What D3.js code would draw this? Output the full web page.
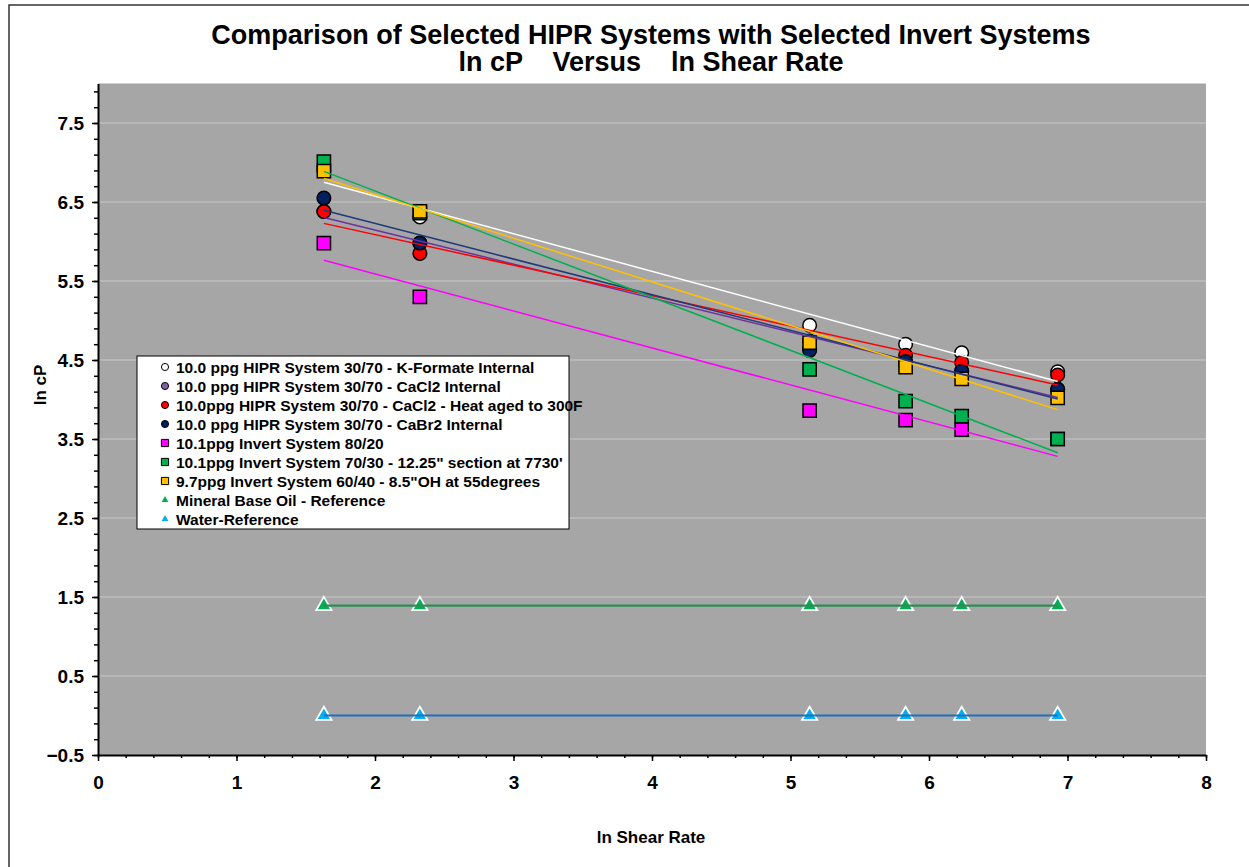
<!DOCTYPE html>
<html>
<head>
<meta charset="utf-8">
<script src="https://cdn.jsdelivr.net/npm/d3@7"></script>
<style>
  body { margin: 0; background: #fff; }
  svg { display: block; font-family: "Liberation Sans", Arial, sans-serif; }
  .axis path, .axis line { stroke: #000; }
  .axis text { font-weight: bold; font-size: 19px; fill: #000; }
</style>
</head>
<body>
<div id="chart"></div>
<script>
// ln shear rate (x) shared by every series
const lnShear = [1.631, 2.324, 5.138, 5.831, 6.236, 6.929];

// ln cP values
const kFormate    = [6.90, 6.31, 4.94, 4.70, 4.59, 4.35];
const cacl2Int    = [6.38, 5.98, 4.65, 4.45, 4.36, 4.13];
const cacl2Heat   = [6.38, 5.85, 4.74, 4.56, 4.47, 4.31];
const cabr2Int    = [6.55, 5.98, 4.62, 4.48, 4.36, 4.13];
const invert8020  = [5.98, 5.30, 3.86, 3.74, 3.62, 3.50];
const invert7030  = [7.01, 6.36, 4.38, 3.98, 3.79, 3.50];
const invert6040  = [6.89, 6.38, 4.72, 4.41, 4.26, 4.02];
const mineralOil  = [1.39, 1.39, 1.39, 1.39, 1.39, 1.39];
const waterRef    = [0.00, 0.00, 0.00, 0.00, 0.00, 0.00];

const seriesNames = [
  "10.0 ppg HIPR System 30/70 - K-Formate Internal",
  "10.0 ppg HIPR System 30/70 - CaCl2 Internal",
  "10.0ppg HIPR System 30/70 - CaCl2 - Heat aged to 300F",
  "10.0 ppg HIPR System 30/70 - CaBr2 Internal",
  "10.1ppg Invert System 80/20",
  "10.1ppg Invert System 70/30 - 12.25\" section at 7730'",
  "9.7ppg Invert System 60/40 - 8.5\"OH at 55degrees",
  "Mineral Base Oil - Reference",
  "Water-Reference"
];
const xTicks = [0, 1, 2, 3, 4, 5, 6, 7, 8];
const yTicks = [-0.5, 0.5, 1.5, 2.5, 3.5, 4.5, 5.5, 6.5, 7.5];

const styles = [
  {shape: d3.symbolCircle,   fill: "#ffffff", stroke: "#000", line: "#ffffff"},
  {shape: d3.symbolCircle,   fill: "#8064a2", stroke: "#000", line: "#7030a0"},
  {shape: d3.symbolCircle,   fill: "#ff0000", stroke: "#000", line: "#ff0000"},
  {shape: d3.symbolCircle,   fill: "#002060", stroke: "#000", line: "#1f3a7a"},
  {shape: d3.symbolSquare,   fill: "#ff00ff", stroke: "#000", line: "#ff00ff"},
  {shape: d3.symbolSquare,   fill: "#00b050", stroke: "#000", line: "#00b050"},
  {shape: d3.symbolSquare,   fill: "#ffc000", stroke: "#000", line: "#ffc000"},
  {shape: d3.symbolTriangle, fill: "#00b050", stroke: "#fff", line: "#2e8b57"},
  {shape: d3.symbolTriangle, fill: "#00b0f0", stroke: "#fff", line: "#1f6fbf"}
];
const values = [kFormate, cacl2Int, cacl2Heat, cabr2Int, invert8020, invert7030, invert6040, mineralOil, waterRef];

const series = seriesNames.map(function(name, i) {
  return {name: name, style: styles[i],
          points: lnShear.map(function(x, j) { return {x: x, y: values[i][j]}; })};
});

const W = 1249, H = 867;
const svg = d3.select("#chart").append("svg").attr("width", W).attr("height", H);

// outer chart frame
svg.append("rect").attr("x", 9).attr("y", 5).attr("width", 1300).attr("height", 900)
  .attr("fill", "#fff").attr("stroke", "#333").attr("stroke-width", 1.5);

const x = d3.scaleLinear().domain([0, 8]).range([98, 1206]);
const y = d3.scaleLinear().domain([-0.5, 8]).range([755, 83.5]);

// plot area
svg.append("rect").attr("x", x(0)).attr("y", y(8))
  .attr("width", x(8) - x(0)).attr("height", y(-0.5) - y(8))
  .attr("fill", "#a6a6a6");

// horizontal gridlines
svg.append("g").selectAll("line").data(yTicks.slice(1)).enter().append("line")
  .attr("x1", x(0)).attr("x2", x(8))
  .attr("y1", function(d) { return y(d); }).attr("y2", function(d) { return y(d); })
  .attr("stroke", "#c8c8c8").attr("stroke-width", 1);

// minor ticks
const xMinor = d3.range(0, 41).map(function(i) { return i * 0.2; });
const yMinor = d3.range(0, 43).map(function(i) { return -0.5 + i * 0.2; });
svg.append("g").attr("class", "axis").attr("transform", "translate(0," + y(-0.5) + ")")
  .call(d3.axisBottom(x).tickValues(xMinor).tickSize(3).tickFormat(""))
  .call(function(g) { g.select(".domain").remove(); });
svg.append("g").attr("class", "axis").attr("transform", "translate(" + x(0) + ",0)")
  .call(d3.axisLeft(y).tickValues(yMinor).tickSize(4).tickFormat(""))
  .call(function(g) { g.select(".domain").remove(); });

// major axes
const xAxis = svg.append("g").attr("class", "axis").attr("transform", "translate(0," + y(-0.5) + ")")
  .call(d3.axisBottom(x).tickValues(xTicks).tickSize(6).tickSizeOuter(0).tickPadding(15).tickFormat(d3.format("d")));
const yAxis = svg.append("g").attr("class", "axis").attr("transform", "translate(" + x(0) + ",0)")
  .call(d3.axisLeft(y).tickValues(yTicks).tickSize(6).tickSizeOuter(0).tickPadding(8).tickFormat(d3.format(".1f")));
xAxis.select(".domain").attr("stroke-width", 2);
yAxis.select(".domain").attr("stroke-width", 2);
svg.selectAll(".axis .tick line").attr("stroke-width", 1.5);

// markers
const markerSize = {circle: 145, square: 175, triangle: 100};
series.forEach(function(s) {
  const sz = s.style.shape === d3.symbolCircle ? markerSize.circle
           : s.style.shape === d3.symbolSquare ? markerSize.square : markerSize.triangle;
  svg.append("g").selectAll("path").data(s.points).enter().append("path")
    .attr("transform", function(d) { return "translate(" + x(d.x) + "," + y(d.y) + ")"; })
    .attr("d", d3.symbol().type(s.style.shape).size(sz))
    .attr("fill", s.style.fill).attr("stroke", s.style.stroke)
    .attr("stroke-width", s.style.stroke === "#fff" ? 1.8 : 1.5);
});

// linear trendlines (least squares through each series)
function fit(points) {
  const mx = d3.mean(points, function(d) { return d.x; });
  const my = d3.mean(points, function(d) { return d.y; });
  const sxy = d3.sum(points, function(d) { return (d.x - mx) * (d.y - my); });
  const sxx = d3.sum(points, function(d) { return (d.x - mx) * (d.x - mx); });
  const b = sxx === 0 ? 0 : sxy / sxx;
  return function(v) { return my + b * (v - mx); };
}
const xs = d3.extent(lnShear);
series.forEach(function(s, i) {
  const f = fit(s.points);
  svg.append("line")
    .attr("x1", x(xs[0])).attr("y1", y(f(xs[0])))
    .attr("x2", x(xs[1])).attr("y2", y(f(xs[1])))
    .attr("stroke", s.style.line).attr("stroke-width", i >= 7 ? 2.2 : 1.5);
});

// legend
const legend = svg.append("g");
legend.append("rect").attr("x", 137).attr("y", 356).attr("width", 432).attr("height", 173)
  .attr("fill", "#fff").attr("stroke", "#000").attr("stroke-width", 1);
series.forEach(function(s, i) {
  const ly = 367 + i * 19;
  const sz = s.style.shape === d3.symbolCircle ? 40 : s.style.shape === d3.symbolSquare ? 52 : 20;
  legend.append("path")
    .attr("transform", "translate(165," + ly + ")")
    .attr("d", d3.symbol().type(s.style.shape).size(sz))
    .attr("fill", s.style.fill)
    .attr("stroke", s.style.stroke === "#fff" ? "none" : "#000").attr("stroke-width", 1);
  legend.append("text").attr("x", 176).attr("y", ly).attr("dy", "0.36em")
    .attr("font-size", "15.5px").attr("font-weight", "bold").text(s.name);
});

// titles
svg.append("text").attr("x", 651).attr("y", 44).attr("text-anchor", "middle")
  .attr("font-size", "27px").attr("font-weight", "bold")
  .text("Comparison of Selected HIPR Systems with Selected Invert Systems");
svg.append("text").attr("x", 651).attr("y", 71).attr("text-anchor", "middle")
  .attr("font-size", "27px").attr("font-weight", "bold").style("white-space", "pre")
  .text("ln cP    Versus    ln Shear Rate");
svg.append("text").attr("x", 651).attr("y", 843).attr("text-anchor", "middle")
  .attr("font-size", "17px").attr("font-weight", "bold").text("ln Shear Rate");
svg.append("text").attr("transform", "translate(46,385) rotate(-90)").attr("text-anchor", "middle")
  .attr("font-size", "17px").attr("font-weight", "bold").text("ln cP");
</script>
</body>
</html>
